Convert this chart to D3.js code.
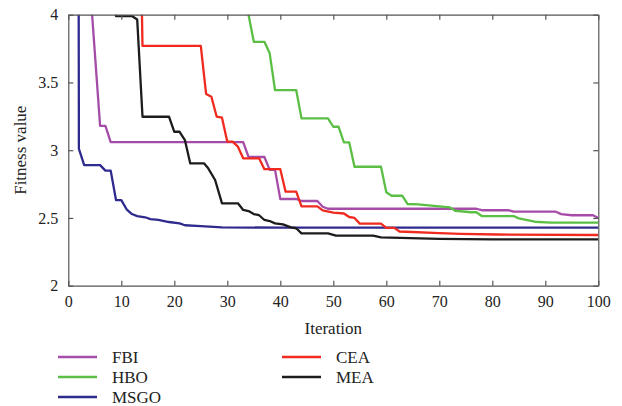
<!DOCTYPE html>
<html>
<head>
<meta charset="utf-8">
<script src="https://cdn.jsdelivr.net/npm/d3@7"></script>
<style>
  body { margin: 0; background: #fff; }
  svg text { font-family: "Liberation Serif", "DejaVu Serif", serif; fill: #222; }
</style>
</head>
<body>
<svg id="viz"></svg>
<script>
// the data: [iteration, fitness] breakpoints
var fbi = [[1,5.5],[4.4,4.05],[6,3.18],[7,3.18],[8,3.06],[33,3.06],[34,2.95],[37,2.95],[38,2.855],[39,2.855],[40,2.64],[43,2.64],[44,2.625],[47,2.625],[48,2.583],[49,2.568],[77,2.568],[78,2.557],[83,2.557],[84,2.546],[92,2.546],[93,2.528],[95,2.52],[99,2.52],[100,2.50]];
var hbo = [[33,4.2],[35,3.80],[37,3.80],[38,3.715],[39,3.444],[43,3.444],[44,3.235],[49,3.235],[50,3.173],[51,3.173],[52,3.058],[53,3.058],[54,2.878],[59,2.878],[60,2.689],[61,2.664],[63,2.664],[64,2.603],[66,2.60],[70,2.585],[72,2.578],[73,2.553],[76,2.542],[77,2.542],[78,2.514],[84,2.514],[85,2.497],[88,2.472],[91,2.465],[100,2.465]];
var msgo = [[1,30],[2,3.01],[3,2.89],[6,2.89],[7,2.849],[8,2.849],[9,2.632],[10,2.632],[11,2.564],[12,2.529],[13,2.514],[14.5,2.505],[15.5,2.492],[17,2.485],[19,2.47],[21,2.46],[22,2.446],[25,2.44],[29,2.431],[40,2.428],[100,2.428]];
var cea = [[13,6],[14,3.77],[25,3.77],[26,3.415],[27,3.395],[28,3.247],[29,3.24],[30,3.063],[31,3.063],[32,3.026],[33,2.94],[36,2.94],[37,2.86],[40,2.86],[41,2.694],[43,2.694],[44,2.586],[47,2.586],[48,2.556],[50,2.539],[52,2.533],[53,2.507],[54,2.5],[55,2.458],[59,2.458],[60,2.427],[61.5,2.427],[62.5,2.40],[70,2.388],[74,2.383],[81,2.378],[100,2.374]];
var mea = [[8,4.3],[9,3.99],[12,3.99],[13,3.965],[14,3.247],[19,3.247],[20,3.136],[21,3.136],[22,3.075],[23,2.903],[25.6,2.903],[26.4,2.866],[27.7,2.78],[29,2.608],[32,2.608],[33,2.559],[34,2.551],[35,2.529],[36,2.52],[37,2.485],[38,2.477],[39,2.46],[40.5,2.453],[42,2.431],[43,2.424],[44,2.386],[49,2.386],[50.5,2.369],[57.5,2.369],[59,2.357],[70,2.345],[80,2.342],[100,2.342]];

var names = ["FBI", "HBO", "MSGO", "CEA", "MEA"];
var colors = ["#a54ca8", "#5cbf45", "#2f2a8e", "#f02a1e", "#1c1c1c"];
var xTicks = [0, 10, 20, 30, 40, 50, 60, 70, 80, 90, 100];
var yTicks = [2, 2.5, 3, 3.5, 4];
var series = [fbi, hbo, msgo, cea, mea];

// set up the svg
var w = 622, h = 406;
var svg = d3.select("#viz").attr("width", w).attr("height", h);
var pLeft = 68.3, pRight = 598.3, pTop = 14.7, pBottom = 285.7;

var x = d3.scaleLinear().domain([0, 100]).range([pLeft, pRight]);
var y = d3.scaleLinear().domain([2, 4]).range([pBottom, pTop]);

svg.append("clipPath").attr("id", "clip")
  .append("rect").attr("x", pLeft).attr("y", pTop)
  .attr("width", pRight - pLeft).attr("height", pBottom - pTop);

// the lines
var line = d3.line().x(function(d) { return x(d[0]); }).y(function(d) { return y(d[1]); });
var plot = svg.append("g").attr("clip-path", "url(#clip)");
series.forEach(function(s, i) {
  plot.append("path").datum(s)
    .attr("d", line)
    .attr("fill", "none")
    .attr("stroke", colors[i])
    .attr("stroke-width", 2.3)
    .attr("stroke-linejoin", "round");
});

// axes (box with inward ticks on all sides)
function styleAxis(g) {
  g.select(".domain").attr("stroke", "#555").attr("stroke-width", 1.2);
  g.selectAll(".tick line").attr("stroke", "#555").attr("stroke-width", 1.2);
  g.selectAll("text").style("font-size", "16px").attr("fill", "#222");
}
var fmtY = function(d) { return d3.format("")(d); };

svg.append("g").attr("transform", "translate(0," + pBottom + ")")
  .call(d3.axisBottom(x).tickValues(xTicks).tickSizeInner(-5).tickSizeOuter(0).tickPadding(10))
  .call(styleAxis);
svg.append("g").attr("transform", "translate(0," + pTop + ")")
  .call(d3.axisTop(x).tickValues(xTicks).tickSizeInner(-5).tickSizeOuter(0).tickFormat(""))
  .call(styleAxis);
svg.append("g").attr("transform", "translate(" + pLeft + ",0)")
  .call(d3.axisLeft(y).tickValues(yTicks).tickSizeInner(-5).tickSizeOuter(0).tickPadding(10).tickFormat(fmtY))
  .call(styleAxis);
svg.append("g").attr("transform", "translate(" + pRight + ",0)")
  .call(d3.axisRight(y).tickValues(yTicks).tickSizeInner(-5).tickSizeOuter(0).tickFormat(""))
  .call(styleAxis);

// axis titles
svg.append("text").attr("x", (pLeft + pRight) / 2).attr("y", 334)
  .attr("text-anchor", "middle").style("font-size", "17px").text("Iteration");
svg.append("text").attr("transform", "translate(26," + (pTop + pBottom) / 2 + ") rotate(-90)")
  .attr("text-anchor", "middle").style("font-size", "17px").text("Fitness value");

// legend
var legPos = [[58, 357], [58, 377], [58, 397], [282, 357], [282, 377]];
names.forEach(function(n, i) {
  var p = legPos[i];
  svg.append("line").attr("x1", p[0]).attr("x2", p[0] + 39)
    .attr("y1", p[1]).attr("y2", p[1])
    .attr("stroke", colors[i]).attr("stroke-width", 2.5);
  svg.append("text").attr("x", p[0] + 54).attr("y", p[1] + 6)
    .style("font-size", "17px").text(n);
});
</script>
</body>
</html>
